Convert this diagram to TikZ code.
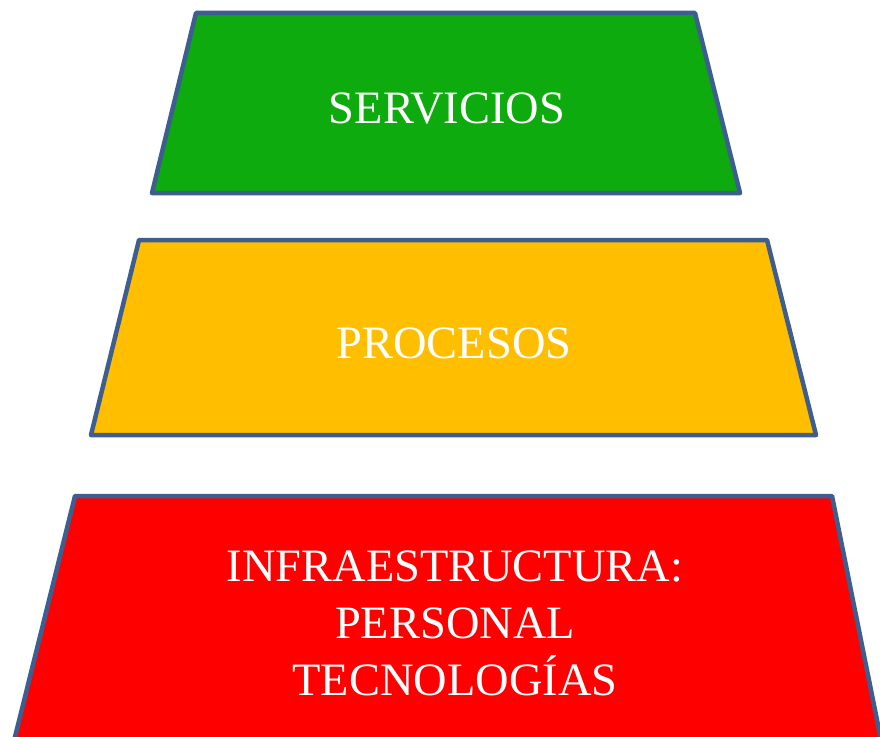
\documentclass[tikz,border=0pt]{standalone}
\usepackage{fontspec}
\setmainfont{Liberation Serif}
\usepackage{xcolor}
\definecolor{edgeblue}{rgb}{0.24, 0.37, 0.56}
\definecolor{levgreen}{rgb}{0.05, 0.67, 0.05}
\definecolor{levyellow}{rgb}{1.0, 0.75, 0.0}
\definecolor{levred}{rgb}{1.0, 0.0, 0.0}

\begin{document}
\begin{tikzpicture}[x=0.025cm, y=-0.025cm, line join=round]

\tikzset{level/.style={draw=edgeblue, line width=3.2pt},
  levtext/.style={text=white, align=center, font=\fontsize{33}{40.5}\selectfont}}

\useasboundingbox (0,0) rectangle (880,736);
\fill[white] (0,0) rectangle (880,736);
\clip (0,0) rectangle (880,736);

%levels
\draw[level, fill=levgreen] (196,13) -- (695,13) -- (740,193) -- (152,193) -- cycle;
\draw[level, fill=levyellow] (139,240) -- (767,240) -- (816,435) -- (91,435) -- cycle;
\draw[level, fill=levred] (75,496) -- (832,496) -- (882,745) -- (13,745) -- cycle;

%labels
\node[levtext] (serv) at (447,108) {SERVICIOS};
\node[levtext] (proc) at (454,343) {PROCESOS};
\node[levtext] (infra) at (455,623) {INFRAESTRUCTURA:\\PERSONAL\\TECNOLOGÍAS};

\end{tikzpicture}
\end{document}
